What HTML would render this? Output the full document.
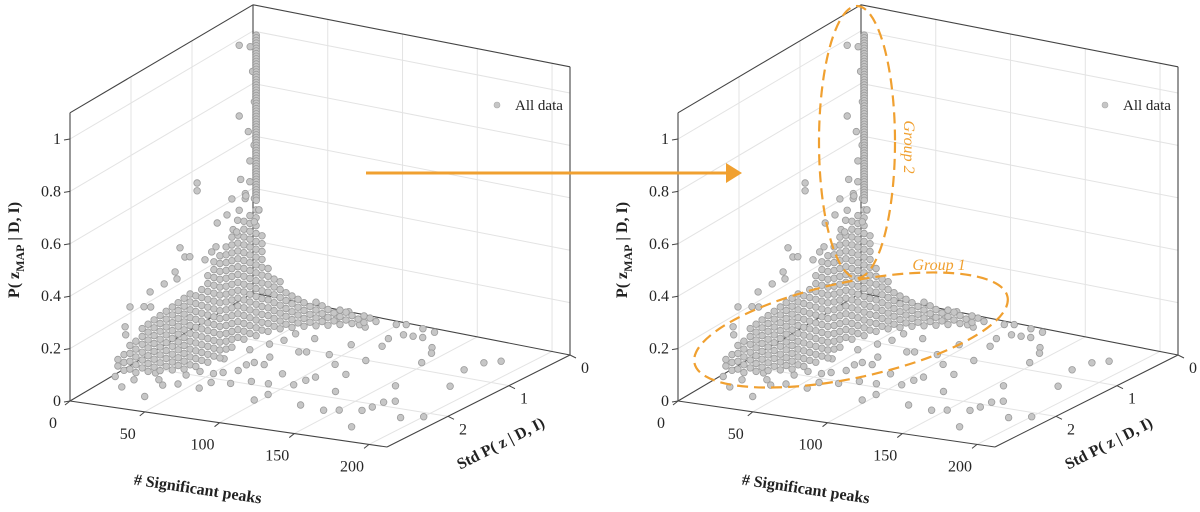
<!DOCTYPE html>
<html><head><meta charset="utf-8"><style>
html,body{margin:0;padding:0;background:#fff;}
svg text{font-family:"Liberation Serif","Times New Roman",serif;}
</style></head><body>
<svg id="fig" width="1200" height="507" viewBox="0 0 1200 507" xmlns="http://www.w3.org/2000/svg" font-family="Liberation Serif, serif"></svg>
<script>
// ---- data ----
const spikeZ = [0.99,0.98,0.97,0.96,0.95,0.94,0.93,0.92,0.91,0.9,0.89,0.88,0.87,0.86,0.85,0.84,0.83,0.82,0.81,0.8,0.79,0.78,0.77,0.76,0.75,0.74,0.73,0.72,0.71,0.7,0.69,0.68,0.67,0.66,0.65,0.64,0.63,0.62,0.61,0.6,0.59,0.58,0.57,0.56,0.55,0.54,0.53,0.52,0.51,0.5,0.49,0.48,0.47,0.46,0.45,0.44,0.43,0.42,0.41,0.4,0.39,0.38,0.37,0.36];
const funnelPts = [[3,0.2,0.41],[4,0.15,0.45],[3,0.3,0.36],[5,0.1,0.38],[2,0.25,0.47],[6,0.05,0.33],[4,0.35,0.33],[3,0.4,0.3],[7,0.15,0.3],[2,0.1,0.52],[5,0.25,0.4],[8,0.1,0.34],[4,0.08,0.58],[3,0.15,0.64]];
const outlierPts = [[3,0.3,0.99],[3,0.12,0.96],[3,0.08,0.86],[3,0.3,0.72],[3,0.05,0.74],
[3,1.27,.35],[3,1.19,.304],[3,1.11,.294],[3,0.86,.248],[3,1.35,.269],[3,1.32,.238],[3,1.76,.249],[3,1.53,.248],[3,2.09,.237],[3,1.86,.206],[3,1.75,.19],[3,2.17,.172],[3,2.16,.14],[3,0.99,.559],[3,0.99,.529],[3,0.66,.361],[3,0.5,.37],[3,0.34,.283],[3,0.42,.42],[3,0.19,.4],[3,0.68,.273],[3,0.75,.263]];
// dense cloud columns: [peaks, std, list of P values]
const cloudCols = [
[1,2.24,[.03,.055]],
[1,2.14,[0,.03,.06]],
[6.6,2.18,[.015,.045,.075,.105]],
[9.4,2.15,[0,.03,.06,.09,.12]],
[12,2.11,[.015,.045,.075,.105,.135,.165]],
[14.7,2.08,[0,.03,.06,.09,.12,.15,.18]],
[17.5,2.05,[.015,.045,.075,.105,.135,.165,.195]],
[20.3,2.02,[0,.03,.06,.09,.12,.15,.18,.21]],
[23.1,1.99,[.015,.045,.075,.105,.135,.165,.195,.225]],
[26,1.96,[0,.03,.06,.09,.12,.15,.18,.21,.24]],
[28.7,1.93,[.015,.045,.075,.105,.135,.165,.195,.225,.255]],
[31.4,1.90,[0,.03,.06,.09,.12,.15,.18,.21,.24,.27]],
[34.2,1.87,[.015,.045,.075,.105,.135,.165,.195,.225,.255,.285]],
[35.2,1.80,[0,.03,.06,.09,.12,.15,.18,.21,.24,.27]],
[36.3,1.73,[.015,.045,.075,.105,.135,.165,.195,.225,.255,.285]],
[37.5,1.66,[0,.03,.06,.09,.12,.15,.18,.21,.24,.27,.3,.33]],
[38.7,1.59,[.015,.045,.075,.105,.135,.165,.195,.225,.255,.285,.315,.345,.375]],
[39.9,1.52,[0,.03,.06,.09,.12,.15,.18,.21,.24,.27,.3,.33,.36,.39]],
[38.7,1.39,[.015,.045,.075,.105,.135,.165,.195,.225,.255,.285,.315,.345,.375,.405]],
[36.5,1.24,[0,.03,.06,.09,.12,.15,.18,.21,.24,.27,.3,.33,.36,.39,.42]],
[34.4,1.09,[.015,.045,.075,.105,.135,.165,.195,.225,.255,.285,.315,.345,.375,.405]],
[35.5,1.02,[0,.03,.06,.09,.12,.15,.18,.21,.24,.27,.3,.33,.36,.39,.42,.45]],
[37,0.957,[.015,.045,.075,.105,.135,.165,.195,.225,.255,.285,.315,.345,.375,.405,.435,.465]],
[38.6,0.896,[0,.03,.06,.09,.12,.15,.18,.21,.24,.27,.3,.33,.36,.39,.42,.45,.48]],
[40.2,0.838,[.015,.045,.075,.105,.135,.165,.195,.225,.255,.285,.315,.345,.375]],
[40.9,0.755,[0,.03,.06,.09,.12,.15,.18,.21,.24]],
[42.9,0.706,[.015,.045,.075,.105,.135,.165,.195]],
[44.7,0.652,[0,.03,.06,.09,.12,.15,.18]],
[47.1,0.613,[.015,.045,.075,.105,.135]],
[49.5,0.574,[0,.03,.06,.09,.12]],
[52,0.537,[.015,.045,.075,.105]],
[54.5,0.5,[0,.03,.06,.09]],
[57.4,0.472,[.015,.045,.075]],
[60.1,0.44,[0,.03,.06,.09]],
[62.9,0.409,[.015,.045,.075]],
[65.6,0.379,[0,.03,.06]],
[68.3,0.346,[.015,.045]],
[71,0.314,[0,.03,.055]],
[73.5,0.277,[.015,.045]],
[76.1,0.242,[0,.03]],
[78.7,0.206,[.015]],
[81.1,0.169,[0,.025]],
[83.7,0.134,[.015]],
[86.2,0.097,[0]]
];
const sparsePts = [[106,0.25,.03],[111,0.21,.03],[115,0.6,.03],[119,0.45,.03],[125,0.44,.03],[123,0.23,.03],[131,0.43,.03],[132,0.26,.03],[119,0.8,.03],[102,0.89,.03],[124,1.19,.03],[154,1.01,.03],[145,0.62,.03],[150,0.75,.03],[182,1.0,.03],[185,0.75,.03],[192,0.64,.03],[191,1.45,.03],[163,1.66,.03],[178,2.03,.03],[173,2.1,.03],[172,2.26,.03],[170,2.38,.03],[197,2.41,.03],[208,2.3,.03],[181,2.82,.03],[158,2.46,.03],[150,2.52,.03],[133,2.48,.03],[138,2.03,.03],[127,1.59,.03],[112,1.4,.03],[114,1.77,.03],[112,1.88,.03],[110,2.03,.03],[94,1.82,.03],[96,2.1,.03],[106,2.35,.03],[104,2.53,.03],[85,2.11,.03],[76,2.23,.03],[65,2.28,.03],[64,2.45,.03],[49,2.43,.03],[42,2.51,.03],[43,2.83,.03],[22,2.69,.03],[9,2.48,.03],[22,2.49,.03],[27,2.26,.03],[100,1.2,.03],[82,1.26,.03],[86,1.23,.03],[64,0.87,.03],[64,1.06,.03],[72,1.49,.03],[69,1.67,.03],[76,1.68,.03],[67,1.75,.03],[68,1.91,.03],[62,2.01,.03],[58,2.07,.03],[49,2.07,.03],[88,0.41,.03],[71,0.37,.03],[64,0.39,.03],[71,0.17,.03],[93,0.44,.03],[55,1.4,.03],[50,1.7,.03],[45,2.2,.03],[35,2.4,.03],[60,1.2,.03],[78,0.9,.03]];
const zTicks = [0,0.2,0.4,0.6,0.8,1];
const zTickLabels = ["0","0.2","0.4","0.6","0.8","1"];
const xTicks = [0,50,100,150,200];
const xTickLabels = ["0","50","100","150","200"];
const sTicks = [0,1,2];
const sTickLabels = ["0","1","2"];

// ---- geometry ----
const NS='http://www.w3.org/2000/svg';
const svg=document.getElementById('fig');
const XMAX=212, SMAX=3.0, ZMAX=1.1, ZS=262;
const B={x:253,y:293}, R={x:570,y:355}, FL={x:70,y:401}, FR={x:387,y:447};
function proj(ox,x,s,z){
  const u=x/XMAX, v=s/SMAX;
  const bx=B.x*(1-u)*(1-v)+R.x*u*(1-v)+FL.x*(1-u)*v+FR.x*u*v;
  const by=B.y*(1-u)*(1-v)+R.y*u*(1-v)+FL.y*(1-u)*v+FR.y*u*v;
  return [bx+ox, by-ZS*z];
}
function mk(tag,attrs,parent){const e=document.createElementNS(NS,tag);for(const k in attrs)e.setAttribute(k,attrs[k]);(parent||svg).appendChild(e);return e;}
function line(p,q,stroke,w,parent){return mk('line',{x1:p[0],y1:p[1],x2:q[0],y2:q[1],stroke:stroke,'stroke-width':w},parent);}
function txt(x,y,str,attrs,parent){const t=mk('text',Object.assign({x:x,y:y,'font-family':'Liberation Serif, serif'},attrs),parent);t.textContent=str;return t;}

function panel(ox, name){
  const g=mk('g',{});
  
  
  const grid=mk('g',{},g);
  
  
  const GC='#e3e3e3';
  zTicks.forEach(z=>{ if(z===0) return;
    line(proj(ox,0,SMAX,z),proj(ox,0,0,z),GC,1,grid);
    line(proj(ox,0,0,z),proj(ox,XMAX,0,z),GC,1,grid);
  });
  xTicks.forEach(x=>{ if(x===0) return;
    line(proj(ox,x,0,0),proj(ox,x,0,ZMAX),GC,1,grid);
    line(proj(ox,x,0,0),proj(ox,x,SMAX,0),GC,1,grid);
  });
  sTicks.forEach(s=>{ if(s===0) return;
    line(proj(ox,0,s,0),proj(ox,0,s,ZMAX),GC,1,grid);
    line(proj(ox,0,s,0),proj(ox,XMAX,s,0),GC,1,grid);
  });
  const box=mk('g',{},g);
  
  
  const K='#444';
  const c000=proj(ox,0,0,0), cX00=proj(ox,XMAX,0,0), c0S0=proj(ox,0,SMAX,0), cXS0=proj(ox,XMAX,SMAX,0);
  const c00Z=proj(ox,0,0,ZMAX), cX0Z=proj(ox,XMAX,0,ZMAX), c0SZ=proj(ox,0,SMAX,ZMAX);
  [[c000,cX00],[c000,c0S0],[c000,c00Z],[c00Z,cX0Z],[c00Z,c0SZ],[cX00,cX0Z],[c0S0,c0SZ],[c0S0,cXS0],[cXS0,cX00]].forEach(p=>line(p[0],p[1],K,1.1,box));
  const pts=mk('g',{},g);
  
  
  let all=[].concat(sparsePts);
  cloudCols.forEach(c=>c[2].forEach(z=>all.push([c[0],c[1],z])));
  all=all.concat(funnelPts, outlierPts, spikeZ.map(z=>[3,0.02,z]));
  all.forEach(p=>{
    const q=proj(ox,p[0],p[1],p[2]);
    const c=mk('circle',{cx:q[0].toFixed(1),cy:q[1].toFixed(1),r:3.3,fill:'#c6c6c6',stroke:'#9c9c9c','stroke-width':0.8},pts);
    
    
  });
  const tk=mk('g',{fill:'#262626','font-size':'16'},g);
  
  
  zTicks.forEach((z,i)=>{
    const p=proj(ox,0,SMAX,z);
    line(p,[p[0]-6,p[1]+1],K,1,tk);
    const t=txt(p[0]-9,p[1]+5,zTickLabels[i],{'text-anchor':'end'},tk);
    
    
  });
  xTicks.forEach((x,i)=>{
    const p=proj(ox,x,SMAX,0);
    line(p,[p[0]-5,p[1]+4],K,1,tk);
    const t=txt(p[0]-17,p[1]+27,xTickLabels[i],{'text-anchor':'middle'},tk);
    
    
  });
  sTicks.forEach((s,i)=>{
    const p=proj(ox,XMAX,s,0);
    line(p,[p[0]+6,p[1]+3],K,1,tk);
    const t=txt(p[0]+15,p[1]+18,sTickLabels[i],{'text-anchor':'middle'},tk);
    
    
  });
  const zl=mk('text',{transform:`translate(${ox+19},250) rotate(-90)`,'text-anchor':'middle','font-size':'16','font-weight':'bold',fill:'#222','font-family':'Liberation Serif, serif'},g);
  zl.innerHTML='P( z<tspan dy="5" font-size="12">MAP</tspan><tspan dy="-5"> | D, I)</tspan>';
  
  
  const xl=txt(0,0,'# Significant peaks',{transform:`translate(${ox+197},494) rotate(8.5)`,'text-anchor':'middle','font-size':'16','font-weight':'bold',fill:'#222'},g);
  
  
  const sl=txt(0,0,'Std P( z | D, I)',{transform:`translate(${ox+503},448) rotate(-27)`,'text-anchor':'middle','font-size':'16','font-weight':'bold',fill:'#222'},g);
  
  
  const lg=mk('g',{},g);
  
  
  mk('circle',{cx:ox+497,cy:105,r:3,fill:'#c6c6c6',stroke:'#aaa','stroke-width':0.6},lg);
  txt(ox+515,110,'All data',{'font-size':'15',fill:'#222'},lg);
}
panel(0,'left-panel');
panel(608,'right-panel');

const ar=mk('g',{});


line([366,173],[728,173],'#f0a030',3,ar);
mk('polygon',{points:'726,163 742,173 726,183',fill:'#f0a030'},ar);

const OR='#f0a030';
const e2=mk('ellipse',{cx:857,cy:142,rx:38,ry:136,fill:'none',stroke:OR,'stroke-width':2.2,'stroke-dasharray':'11 6'});


const e1=mk('ellipse',{cx:851,cy:330,rx:160,ry:48,transform:'rotate(-12 851 330)',fill:'none',stroke:OR,'stroke-width':2.2,'stroke-dasharray':'11 6'});


const g1=txt(939,270,'Group 1',{'text-anchor':'middle','font-size':'16','font-style':'italic',fill:OR});


const g2=txt(0,0,'Group 2',{transform:'translate(904,147) rotate(90)','text-anchor':'middle','font-size':'16','font-style':'italic',fill:OR});


</script>
</body></html>
